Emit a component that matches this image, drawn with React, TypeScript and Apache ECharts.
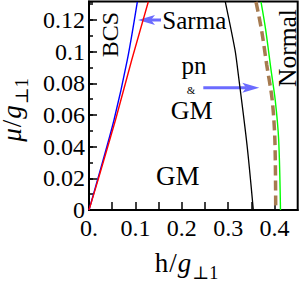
import React, { useEffect, useRef } from "react";
import * as echarts from "echarts";

// ---- data (h / g, mu / g) ----
const blueH = [0, 0.0183, 0.0539, 0.0826, 0.1042];
const blueMu = [0, 0.0189, 0.0568, 0.0947, 0.1314];
const redH = [0, 0.0194, 0.0571, 0.0921, 0.1279];
const redMu = [0, 0.0189, 0.0568, 0.0947, 0.1314];
const blackH = [0.2939, 0.3148, 0.3207, 0.3407, 0.3543];
const blackMu = [0.1314, 0.1011, 0.0884, 0.0411, 0];
const brownH = [0.3601, 0.372, 0.3832, 0.395, 0.4008, 0.4026];
const brownMu = [0.1314, 0.1137, 0.0916, 0.0695, 0.0442, 0];
const greenH = [0.3709, 0.381, 0.3925, 0.4015, 0.409, 0.4129];
const greenMu = [0.1314, 0.1137, 0.0884, 0.0695, 0.0442, 0];

const xTicks = [0, 0.1, 0.2, 0.3, 0.4];
const xTickLabels = ["0.", "0.1", "0.2", "0.3", "0.4"];
const yTicks = [0, 0.02, 0.04, 0.06, 0.08, 0.1, 0.12];
const yTickLabels = ["0", "0.02", "0.04", "0.06", "0.08", "0.1", "0.12"];

const X_MAX = 0.45;
const Y_MAX = 0.1316;

const SERIF = '"Liberation Serif", "Times New Roman", "DejaVu Serif", serif';

function measure(text: string, size: number, italic: boolean) {
  const c = document.createElement("canvas").getContext("2d");
  if (!c) return text.length * size * 0.5;
  c.font = `${italic ? "italic " : ""}${size}px ${SERIF}`;
  return c.measureText(text).width;
}

type Piece = { t: string; size: number; italic?: boolean; dy: number; gap?: number };

function buildPieces(pieces: Piece[]) {
  let x = 0;
  const items: any[] = [];
  pieces.forEach((p) => {
    items.push({
      type: "text",
      x,
      y: p.dy,
      style: {
        text: p.t,
        fontSize: p.size,
        fontFamily: SERIF,
        fontStyle: p.italic ? "italic" : "normal",
        fill: "#000",
        align: "left",
        verticalAlign: "middle",
        lineHeight: p.size * 0.8,
      },
    });
    x += measure(p.t, p.size, !!p.italic) + (p.gap || 0);
  });
  items.forEach((it) => (it.x -= x / 2));
  return items;
}

const pair = (h: number[], m: number[]) => h.map((v, i) => [v, m[i]]);

function label(text: string, x: number, y: number, size: number, rot = 0) {
  return {
    type: "text",
    x,
    y,
    rotation: rot,
    style: {
      text,
      fontSize: size,
      fontFamily: SERIF,
      fill: "#000",
      align: "center",
      verticalAlign: "middle",
      lineHeight: size * 0.8,
    },
  };
}

function arrow(x1: number, y: number, x2: number, color: string) {
  // horizontal arrow from x1 to tip x2
  const dir = x2 > x1 ? 1 : -1;
  const headLen = 17;
  const half = 5;
  const notch = 4;
  return [
    {
      type: "line",
      shape: { x1, y1: y, x2: x2 - dir * (headLen - notch), y2: y },
      style: { stroke: color, lineWidth: 3 },
    },
    {
      type: "polygon",
      shape: {
        points: [
          [x2, y],
          [x2 - dir * headLen, y - half],
          [x2 - dir * (headLen - notch), y],
          [x2 - dir * headLen, y + half],
        ],
      },
      style: { fill: color },
    },
  ];
}

export default function App() {
  const ref = useRef<HTMLDivElement>(null);
  useEffect(() => {
    if (!ref.current) return;
    const chart = echarts.init(ref.current, undefined, { renderer: "svg" });
    const tickFont = { fontFamily: SERIF, fontSize: 24, color: "#000", lineHeight: 17 };
    const arrowColor = "#6b6bff";

    const xTitle = buildPieces([
      { t: "h", size: 27, dy: 0, gap: 1 },
      { t: "/", size: 27, dy: 0, gap: 1 },
      { t: "g", size: 27, italic: true, dy: 0, gap: 1 },
      { t: "\u22A51", size: 18, dy: 9.5 },
    ]);
    const yTitle = buildPieces([
      { t: "\u03BC", size: 27, italic: true, dy: 0, gap: 1 },
      { t: "/", size: 27, dy: 0, gap: 1 },
      { t: "g", size: 27, italic: true, dy: 0, gap: 1 },
      { t: "\u22A51", size: 18, dy: 9.5 },
    ]);

    chart.setOption({
      animation: false,
      grid: {
        left: 89,
        right: 2.3,
        top: 1.5,
        bottom: 73,
        show: true,
        borderColor: "#000",
        borderWidth: 2,
        containLabel: false,
        outerBoundsMode: "none",
      },
      xAxis: {
        type: "value",
        min: 0,
        max: X_MAX,
        interval: 0.05,
        axisLine: { lineStyle: { color: "#000", width: 2 } },
        axisTick: { inside: true, length: 8, lineStyle: { color: "#000", width: 1.5 } },
        splitLine: { show: false },
        axisLabel: {
          ...tickFont,
          margin: 9.5,
          showMaxLabel: false,
          formatter: (v: number) => {
            const i = xTicks.findIndex((t) => Math.abs(t - v) < 1e-9);
            return i >= 0 ? xTickLabels[i] : "";
          },
        },
      },
      yAxis: [
        {
          type: "value",
          position: "left",
          min: 0,
          max: Y_MAX,
          interval: 0.02,
          axisLine: { lineStyle: { color: "#000", width: 2 } },
          axisTick: { inside: true, length: 8, lineStyle: { color: "#000", width: 1.5 } },
          splitLine: { show: false },
          axisLabel: {
            ...tickFont,
            margin: 4,
            showMaxLabel: false,
            formatter: (v: number) => {
              const i = yTicks.findIndex((t) => Math.abs(t - v) < 1e-9);
              return i >= 0 ? yTickLabels[i] : "";
            },
          },
        },
        {
          type: "value",
          position: "left",
          min: 0,
          max: Y_MAX,
          interval: 0.01,
          axisLine: { show: false },
          axisTick: { inside: true, length: 4, lineStyle: { color: "#000", width: 1.5 } },
          splitLine: { show: false },
          axisLabel: { show: false },
        },
      ],
      series: [
        {
          type: "line",
          data: pair(blueH, blueMu),
          symbol: "none",
          smooth: 0.3,
          lineStyle: { color: "#0000ff", width: 1.4 },
        },
        {
          type: "line",
          data: pair(redH, redMu),
          symbol: "none",
          smooth: 0.2,
          lineStyle: { color: "#ff0000", width: 1.4 },
        },
        {
          type: "line",
          data: pair(blackH, blackMu),
          symbol: "none",
          smooth: 0.3,
          lineStyle: { color: "#000000", width: 1.3 },
        },
        {
          type: "line",
          data: pair(brownH, brownMu),
          symbol: "none",
          smooth: 0.3,
          lineStyle: { color: "#a67b50", width: 3.5, type: [10, 5] },
        },
        {
          type: "line",
          data: pair(greenH, greenMu),
          symbol: "none",
          smooth: 0.3,
          lineStyle: { color: "#00ff00", width: 1.4 },
        },
      ],
      graphic: [
        label("BCS", 110, 34.5, 24, Math.PI / 2),
        label("Normal", 287.5, 48, 25.5, Math.PI / 2),
        label("Sarma", 194.3, 20.5, 25),
        label("pn", 194, 65.5, 25),
        label("&", 191, 90, 11),
        label("GM", 191.7, 110, 26),
        label("GM", 177.7, 175.5, 27),
        ...arrow(161, 20, 138, arrowColor),
        ...arrow(203.3, 87.7, 259.3, arrowColor),
        { type: "group", x: 186.5, y: 263, children: xTitle },
        { type: "group", x: 12, y: 110, rotation: Math.PI / 2, children: yTitle },
      ],
    });
    return () => chart.dispose();
  }, []);
  return (
    <div
      ref={ref}
      style={{ position: "absolute", left: 0, top: 0, width: 300, height: 283, background: "#fff" }}
    />
  );
}
